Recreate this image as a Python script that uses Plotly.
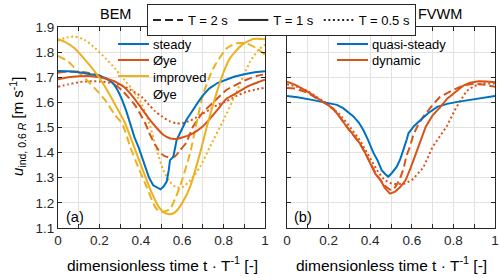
import plotly.graph_objects as go

# ---------------- data ----------------
# Panel (a): BEM
steady_x = [0, 0.05, 0.1, 0.15, 0.2, 0.24, 0.27, 0.29, 0.31, 0.33, 0.35, 0.37, 0.39, 0.41, 0.43, 0.44, 0.46,
            0.48, 0.495, 0.51, 0.525, 0.535, 0.541, 0.557, 0.565, 0.573, 0.589, 0.605, 0.62, 0.64, 0.655, 0.68,
            0.7, 0.73, 0.77, 0.81, 0.85, 0.9, 0.95, 1.0]
steady_y = [1.725, 1.724, 1.72, 1.714, 1.706, 1.694, 1.672, 1.645, 1.61, 1.565, 1.51, 1.46, 1.42, 1.37, 1.32,
            1.30, 1.27, 1.262, 1.254, 1.265, 1.285, 1.33, 1.37, 1.383, 1.42, 1.45, 1.477, 1.505, 1.53, 1.555,
            1.575, 1.605, 1.628, 1.655, 1.677, 1.69, 1.702, 1.712, 1.72, 1.724]

oye_T1_x = [0, 0.05, 0.1, 0.15, 0.2, 0.25, 0.283, 0.32, 0.364, 0.4, 0.444, 0.48, 0.51, 0.54, 0.565, 0.6,
            0.654, 0.7, 0.734, 0.77, 0.815, 0.86, 0.912, 0.96, 1.0]
oye_T1_y = [1.692, 1.70, 1.704, 1.705, 1.70, 1.69, 1.68, 1.66, 1.62, 1.58, 1.53, 1.495, 1.47, 1.457, 1.454,
            1.46, 1.478, 1.505, 1.535, 1.57, 1.615, 1.636, 1.662, 1.678, 1.69]

oye_T2_x = [0, 0.05, 0.1, 0.15, 0.195, 0.25, 0.308, 0.34, 0.372, 0.4, 0.42, 0.44, 0.47, 0.5, 0.525, 0.545,
            0.565, 0.59, 0.62, 0.65, 0.7, 0.75, 0.815, 0.86, 0.91, 0.96, 1.0]
oye_T2_y = [1.718, 1.722, 1.722, 1.717, 1.709, 1.685, 1.649, 1.62, 1.589, 1.55, 1.52, 1.48, 1.43, 1.395,
            1.383, 1.382, 1.385, 1.41, 1.44, 1.50, 1.56, 1.60, 1.65, 1.67, 1.69, 1.705, 1.712]

oye_T05_x = [0, 0.05, 0.1, 0.15, 0.2, 0.25, 0.308, 0.35, 0.404, 0.44, 0.469, 0.5, 0.54, 0.57, 0.6, 0.64,
             0.686, 0.73, 0.77, 0.815, 0.86, 0.91, 0.96, 1.0]
oye_T05_y = [1.662, 1.672, 1.68, 1.684, 1.683, 1.678, 1.668, 1.65, 1.622, 1.59, 1.565, 1.545, 1.525, 1.517,
             1.517, 1.528, 1.549, 1.57, 1.59, 1.605, 1.625, 1.642, 1.652, 1.658]

imp_T1_x = [0, 0.04, 0.08, 0.13, 0.18, 0.22, 0.26, 0.29, 0.32, 0.36, 0.404, 0.453, 0.49, 0.515, 0.54, 0.565,
            0.6, 0.638, 0.686, 0.718, 0.767, 0.8, 0.831, 0.887, 0.943, 1.0]
imp_T1_y = [1.851, 1.838, 1.815, 1.77, 1.72, 1.672, 1.615, 1.57, 1.525, 1.44, 1.343, 1.24, 1.18, 1.16, 1.155,
            1.162, 1.20, 1.264, 1.397, 1.50, 1.64, 1.72, 1.776, 1.828, 1.852, 1.851]

imp_T2_x = [0, 0.05, 0.1, 0.147, 0.19, 0.227, 0.275, 0.31, 0.35, 0.387, 0.43, 0.469, 0.49, 0.51, 0.541,
            0.565, 0.589, 0.638, 0.67, 0.7, 0.75, 0.815, 0.86, 0.91, 0.96, 1.0]
imp_T2_y = [1.785, 1.762, 1.72, 1.682, 1.645, 1.61, 1.55, 1.515, 1.42, 1.343, 1.26, 1.184, 1.165, 1.165,
            1.175, 1.215, 1.264, 1.398, 1.52, 1.63, 1.735, 1.815, 1.835, 1.835, 1.815, 1.79]

imp_T05_x = [0, 0.04, 0.08, 0.13, 0.18, 0.23, 0.275, 0.32, 0.36, 0.4, 0.436, 0.477, 0.509, 0.54, 0.57, 0.6,
             0.64, 0.686, 0.734, 0.8, 0.863, 0.928, 0.97, 1.0]
imp_T05_y = [1.845, 1.858, 1.862, 1.848, 1.815, 1.775, 1.735, 1.69, 1.65, 1.60, 1.53, 1.41, 1.33, 1.285,
             1.262, 1.262, 1.29, 1.343, 1.423, 1.53, 1.642, 1.762, 1.81, 1.83]

# Panel (b): FVWM
qs_x = [0, 0.05, 0.127, 0.207, 0.24, 0.27, 0.295, 0.318, 0.345, 0.367, 0.39, 0.415, 0.435, 0.455, 0.472,
        0.487, 0.505, 0.527, 0.545, 0.56, 0.575, 0.584, 0.61, 0.642, 0.68, 0.722, 0.77, 0.819, 0.87, 0.93, 1.0]
qs_y = [1.625, 1.62, 1.609, 1.597, 1.59, 1.577, 1.56, 1.545, 1.52, 1.49, 1.45, 1.40, 1.37, 1.33, 1.315,
        1.304, 1.32, 1.343, 1.375, 1.41, 1.45, 1.477, 1.505, 1.53, 1.558, 1.582, 1.594, 1.602, 1.609, 1.616,
        1.625]

dyn_T1_x = [0, 0.04, 0.095, 0.13, 0.159, 0.19, 0.223, 0.255, 0.287, 0.32, 0.35, 0.375, 0.399, 0.425, 0.45,
            0.47, 0.495, 0.52, 0.543, 0.57, 0.595, 0.619, 0.645, 0.667, 0.7, 0.736, 0.77, 0.815, 0.85, 0.88,
            0.92, 0.96, 1.0]
dyn_T1_y = [1.682, 1.67, 1.645, 1.625, 1.609, 1.594, 1.575, 1.54, 1.503, 1.47, 1.437, 1.40, 1.357, 1.315,
            1.29, 1.26, 1.237, 1.245, 1.262, 1.29, 1.34, 1.397, 1.45, 1.503, 1.548, 1.58, 1.615, 1.645, 1.668,
            1.678, 1.684, 1.683, 1.68]

dyn_T2_x = [0, 0.04, 0.095, 0.159, 0.19, 0.223, 0.255, 0.287, 0.32, 0.35, 0.375, 0.399, 0.425, 0.45, 0.475,
            0.5, 0.52, 0.54, 0.56, 0.575, 0.591, 0.607, 0.63, 0.655, 0.7, 0.736, 0.8, 0.85, 0.9, 0.95, 1.0]
dyn_T2_y = [1.657, 1.655, 1.64, 1.61, 1.593, 1.572, 1.54, 1.503, 1.47, 1.437, 1.40, 1.36, 1.32, 1.29, 1.265,
            1.25, 1.262, 1.29, 1.335, 1.39, 1.423, 1.47, 1.51, 1.543, 1.59, 1.622, 1.65, 1.668, 1.675, 1.67,
            1.662]

dyn_T05_x = [0, 0.05, 0.1, 0.15, 0.2, 0.25, 0.3, 0.35, 0.4, 0.44, 0.47, 0.5, 0.52, 0.56, 0.6, 0.655, 0.7,
             0.767, 0.815, 0.863, 0.9, 0.945, 1.0]
dyn_T05_y = [1.672, 1.662, 1.645, 1.617, 1.59, 1.555, 1.505, 1.45, 1.375, 1.32, 1.29, 1.278, 1.275, 1.275,
             1.29, 1.34, 1.423, 1.503, 1.582, 1.645, 1.665, 1.676, 1.675]

x_ticks = [0, 0.2, 0.4, 0.6, 0.8, 1]
x_ticklabels = ["0", "0.2", "0.4", "0.6", "0.8", "1"]
y_ticks = [1.1, 1.2, 1.3, 1.4, 1.5, 1.6, 1.7, 1.8, 1.9]
y_ticklabels = ["1.1", "1.2", "1.3", "1.4", "1.5", "1.6", "1.7", "1.8", "1.9"]

legend_a_names = ["steady", "Øye", "improved<br>Øye"]
legend_b_names = ["quasi-steady", "dynamic"]
legend_T_names = ["T = 2 s", "T = 1 s", "T = 0.5 s"]

# ---------------- style ----------------
BLUE = "#0072BD"
ORANGE = "#D95319"
YELLOW = "#EDB120"
AX = "#262626"
GRID = "#e2e2e2"
FONT = "Liberation Sans, Arial, Helvetica, sans-serif"
LW = 2
DASH = "8px,4px"
DOT = "2px,2.6px"

W, H = 500, 278


def px_x(p):
    return p / W


def px_y(p):
    return 1 - p / H


fig = go.Figure()


def add(x, y, color, dash, xa, ya, shape="linear"):
    fig.add_trace(go.Scatter(
        x=x, y=y, mode="lines", xaxis=xa, yaxis=ya,
        line=dict(color=color, width=LW, dash=dash, shape=shape, smoothing=0.6 if shape == "spline" else None),
        showlegend=False, hoverinfo="skip"))


# panel (a)
add(oye_T05_x, oye_T05_y, ORANGE, DOT, "x", "y", shape="spline")
add(imp_T05_x, imp_T05_y, YELLOW, DOT, "x", "y", shape="spline")
add(oye_T2_x, oye_T2_y, ORANGE, DASH, "x", "y", shape="spline")
add(imp_T2_x, imp_T2_y, YELLOW, DASH, "x", "y", shape="spline")
add(steady_x, steady_y, BLUE, "solid", "x", "y")
add(oye_T1_x, oye_T1_y, ORANGE, "solid", "x", "y", shape="spline")
add(imp_T1_x, imp_T1_y, YELLOW, "solid", "x", "y", shape="spline")

# panel (b)
add(dyn_T05_x, dyn_T05_y, ORANGE, DOT, "x2", "y2")
add(dyn_T2_x, dyn_T2_y, ORANGE, DASH, "x2", "y2")
add(qs_x, qs_y, BLUE, "solid", "x2", "y2")
add(dyn_T1_x, dyn_T1_y, ORANGE, "solid", "x2", "y2")

# line-style legend (top box)
for nm, ds in zip(legend_T_names, [DASH, "solid", DOT]):
    fig.add_trace(go.Scatter(x=[None], y=[None], mode="lines", xaxis="x", yaxis="y",
                             line=dict(color=AX, width=LW, dash=ds), name=nm, showlegend=True))

xa_common = dict(range=[0, 1], tickvals=x_ticks, ticktext=x_ticklabels, ticks="inside", ticklen=4,
                 tickcolor=AX, showline=True, linecolor=AX, linewidth=1, mirror="ticks",
                 showgrid=True, gridcolor=GRID, gridwidth=1, zeroline=False, automargin=False,
                 tickfont=dict(family=FONT, size=13.5, color=AX),
                 minor=dict(dtick=0.1, tick0=0, ticks="inside", ticklen=4, tickcolor=AX,
                            showgrid=True, gridcolor=GRID, gridwidth=1))
ya_common = dict(range=[1.1, 1.9], tickvals=y_ticks, ticktext=y_ticklabels, ticks="inside", ticklen=4,
                 tickcolor=AX, showline=True, linecolor=AX, linewidth=1, mirror="ticks",
                 showgrid=True, gridcolor=GRID, gridwidth=1, zeroline=False, automargin=False,
                 tickfont=dict(family=FONT, size=13.5, color=AX))

fig.update_layout(
    width=W, height=H, margin=dict(l=0, r=0, t=0, b=0, autoexpand=False),
    paper_bgcolor="white", plot_bgcolor="white",
    font=dict(family=FONT, color="black"),
    xaxis=dict(domain=[px_x(58), px_x(265)], anchor="y", **xa_common),
    yaxis=dict(domain=[px_y(228), px_y(27)], anchor="x", **ya_common),
    xaxis2=dict(domain=[px_x(287), px_x(495)], anchor="y2", **xa_common),
    yaxis2=dict(domain=[px_y(228), px_y(27)], anchor="x2", showticklabels=False, **ya_common),
    legend=dict(x=px_x(147), y=px_y(4), xanchor="left", yanchor="top", orientation="h",
                bgcolor="white", bordercolor=AX, borderwidth=1,
                font=dict(family=FONT, size=13, color="black"), itemwidth=30),
    showlegend=True,
)

# in-panel colour legends (drawn as MATLAB-style legend entries)
shapes = []
annots = []
legend_a_colors = [BLUE, ORANGE, YELLOW]
for i, (nm, c) in enumerate(zip(legend_a_names, legend_a_colors)):
    yy = px_y(44 + 16 * i)
    shapes.append(dict(type="line", xref="paper", yref="paper", x0=px_x(118), x1=px_x(149), y0=yy, y1=yy,
                       line=dict(color=c, width=LW)))
    annots.append(dict(text=nm, x=px_x(151), y=yy, xanchor="left", yanchor="top" if "<br>" in nm else "middle",
                       yshift=8 if "<br>" in nm else 0))
legend_b_colors = [BLUE, ORANGE]
for i, (nm, c) in enumerate(zip(legend_b_names, legend_b_colors)):
    yy = px_y(44 + 16 * i)
    shapes.append(dict(type="line", xref="paper", yref="paper", x0=px_x(337), x1=px_x(368), y0=yy, y1=yy,
                       line=dict(color=c, width=LW)))
    annots.append(dict(text=nm, x=px_x(370), y=yy, xanchor="left", yanchor="middle"))

annots += [
    dict(text="BEM", x=px_x(115), y=px_y(14), size=14.5),
    dict(text="FVWM", x=px_x(440), y=px_y(14), size=14.5),
    dict(text="dimensionless time t · T<sup>-1</sup> [-]", x=px_x(162), y=px_y(264), size=15.5),
    dict(text="dimensionless time t · T<sup>-1</sup> [-]", x=px_x(391), y=px_y(264), size=15.5),
    dict(text="(a)", x=px_x(75), y=px_y(217), size=14.5),
    dict(text="(b)", x=px_x(303), y=px_y(217), size=14.5),
    dict(text="<i>u</i><sub>ind, 0.6 <i>R</i></sub> [m s<sup>-1</sup>]", x=px_x(17), y=px_y(127),
         textangle=-90, size=15),
]
for a in annots:
    sz = a.pop("size", 13)
    a.setdefault("xanchor", "center")
    a.setdefault("yanchor", "middle")
    fig.add_annotation(xref="paper", yref="paper", showarrow=False, align="left",
                       font=dict(family=FONT, size=sz, color="black"), **a)

fig.update_layout(shapes=shapes)
fig.write_html("out.html", config={"displayModeBar": False},
               post_script="document.body.style.margin='0';document.body.style.padding='0';")
